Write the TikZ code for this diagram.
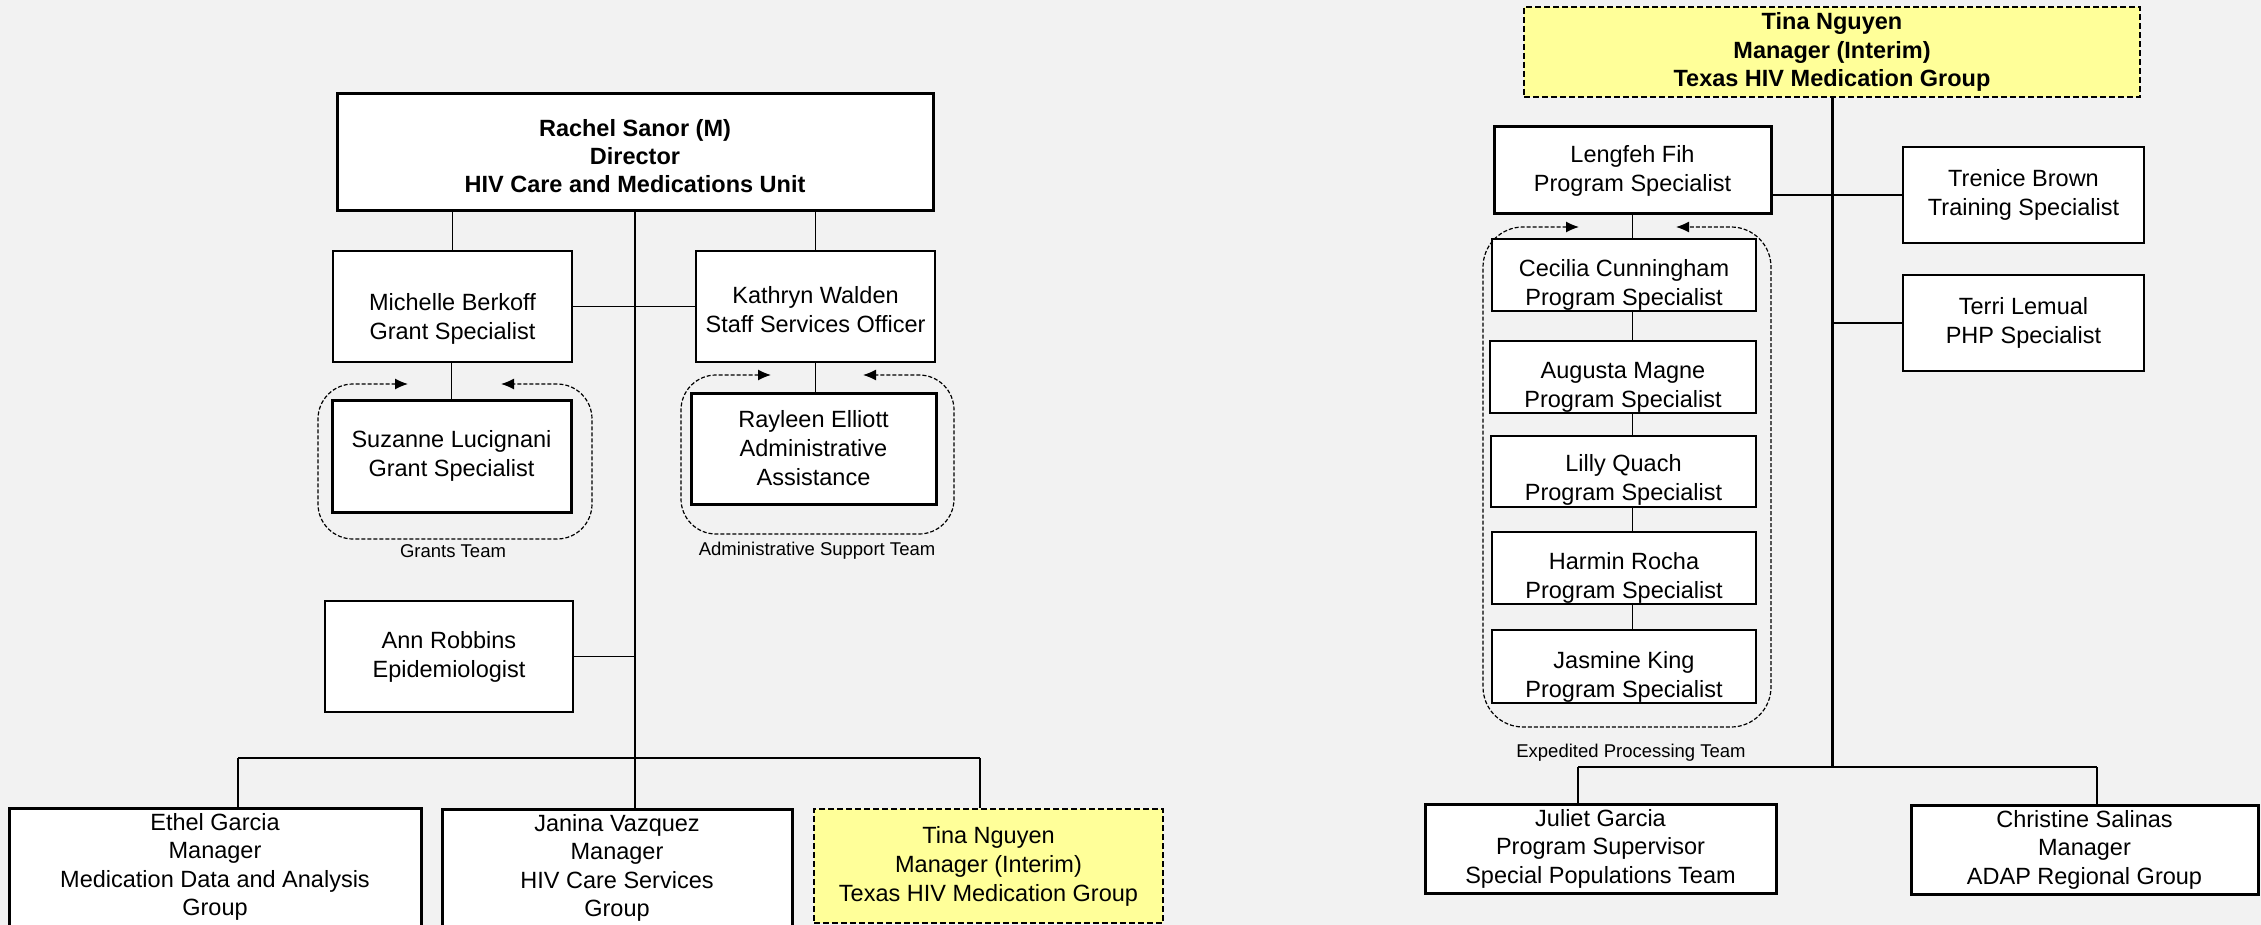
\documentclass[tikz,border=0pt]{standalone}
\usepackage{fontspec}
\setmainfont{Liberation Sans}
\usetikzlibrary{arrows.meta,calc}

\definecolor{pagegray}{HTML}{F2F2F2}
\definecolor{actingyellow}{HTML}{FFFF99}

\tikzset{
	staff/.style={draw=black, line width=1.5pt, fill=white, align=center, inner sep=2pt, font=\fontsize{23.5}{29}\selectfont},
	lead/.style={staff, line width=3pt},
	acting/.style={staff, line width=2.2pt, dash pattern=on 6pt off 3pt, fill=actingyellow},
	textdrop/.style={inner ysep=0pt, execute at begin node={\rule{0pt}{#1}}},
	link/.style={line width=1.5pt},
	teamframe/.style={line width=1.2pt, dash pattern=on 4pt off 2pt, rounded corners=35pt, {Latex[length=13pt,width=11pt]}-{Latex[length=13pt,width=11pt]}},
	teamlabel/.style={font=\fontsize{18.5}{22}\selectfont}
}

\begin{document}
\begin{tikzpicture}[x=1pt, y=-1pt]
	\fill[pagegray] (0,0) rectangle (2261,925);
	\useasboundingbox (0,0) rectangle (2261,925);

	% unit
	\node[lead, minimum width=596pt, minimum height=117pt, textdrop=81pt, font=\fontsize{23.5}{28}\selectfont\bfseries] (rachel) at (635,152.5) {Rachel Sanor (M)\\Director\\HIV Care and Medications Unit};
	\node[staff, minimum width=239pt, minimum height=111pt, textdrop=70pt] (michelle) at (452.5,306.5) {Michelle Berkoff\\Grant Specialist};
	\node[staff, minimum width=239pt, minimum height=111pt, textdrop=52pt] (kathryn) at (815.5,306.5) {Kathryn Walden\\Staff Services Officer};
	\node[lead, minimum width=239pt, minimum height=112pt] (suzanne) at (451.5,456) {Suzanne Lucignani\\Grant Specialist};
	\node[lead, minimum width=245pt, minimum height=111pt] (rayleen) at (813.5,448.5) {Rayleen Elliott\\Administrative\\Assistance};
	\node[staff, minimum width=248pt, minimum height=111pt] (ann) at (449,656.5) {Ann Robbins\\Epidemiologist};
	\node[lead, minimum width=412pt, minimum height=118pt, font=\fontsize{23.5}{28.5}\selectfont] (ethel) at (215,867) {Ethel Garcia\\Manager\\Medication Data and Analysis\\Group};
	\node[lead, minimum width=350pt, minimum height=118pt, font=\fontsize{23.5}{28.5}\selectfont] (janina) at (617,868) {Janina Vazquez\\Manager\\HIV Care Services\\Group};
	\node[acting, minimum width=349pt, minimum height=114pt] (tinaL) at (988.5,866) {Tina Nguyen\\Manager (Interim)\\Texas HIV Medication Group};

	\draw[link] (rachel.south) -- (rachel.south |- janina.north);
	\draw[link] (michelle.north) -- (michelle.north |- rachel.south);
	\draw[link] (kathryn.north) -- (kathryn.north |- rachel.south);
	\draw[link] (michelle.east) -- (kathryn.west);
	\draw[link] (suzanne.north) -- (suzanne.north |- michelle.south);
	\draw[link] (kathryn.south) -- (kathryn.south |- rayleen.north);
	\draw[link] (ann.east) -- (ann.east -| rachel.south);

	\coordinate (lbusL) at (238,758);
	\coordinate (lbusR) at (980,758);
	\draw[link] (lbusL) -- (lbusR);
	\draw[link] (lbusL) -- (lbusL |- ethel.north);
	\draw[link] (lbusR) -- (lbusR |- tinaL.north);

	% teams
	\draw[teamframe] (408,384) -- (318,384) -- (318,539) -- (592,539) -- (592,384) -- (501,384);
	\node[teamlabel] (grants) at (453,551) {Grants Team};
	\draw[teamframe] (771,375) -- (681,375) -- (681,534) -- (954,534) -- (954,375) -- (863,375);
	\node[teamlabel] (admin) at (817,551) {Administrative Support Team};

	% group
	\node[acting, minimum width=616pt, minimum height=90pt, font=\fontsize{23.5}{28.5}\selectfont\bfseries] (tinaR) at (1832,52) {Tina Nguyen\\Manager (Interim)\\Texas HIV Medication Group};
	\node[lead, minimum width=277pt, minimum height=87pt] (lengfeh) at (1632.5,170.5) {Lengfeh Fih\\Program Specialist};
	\node[staff, minimum width=241pt, minimum height=96pt] (trenice) at (2023.5,195) {Trenice Brown\\Training Specialist};
	\node[staff, minimum width=241pt, minimum height=96pt] (terri) at (2023.5,323) {Terri Lemual\\PHP Specialist};
	\node[staff, minimum width=264pt, minimum height=72pt, textdrop=66pt] (cecilia) at (1624,275) {Cecilia Cunningham\\Program Specialist};
	\node[staff, minimum width=266pt, minimum height=72pt, textdrop=66pt] (augusta) at (1623,377) {Augusta Magne\\Program Specialist};
	\node[staff, minimum width=265pt, minimum height=71pt, textdrop=62pt] (lilly) at (1623.5,471.5) {Lilly Quach\\Program Specialist};
	\node[staff, minimum width=264pt, minimum height=72pt, textdrop=66pt] (harmin) at (1624,568) {Harmin Rocha\\Program Specialist};
	\node[staff, minimum width=264pt, minimum height=73pt, textdrop=66pt] (jasmine) at (1624,666.5) {Jasmine King\\Program Specialist};
	\node[lead, minimum width=351pt, minimum height=89pt, font=\fontsize{23.5}{28.5}\selectfont] (juliet) at (1600.5,848.5) {Juliet Garcia\\Program Supervisor\\Special Populations Team};
	\node[lead, minimum width=347pt, minimum height=89pt, font=\fontsize{23.5}{28.5}\selectfont] (christine) at (2084.5,849.5) {Christine Salinas\\Manager\\ADAP Regional Group};

	\coordinate (rbusL) at (1578,767);
	\coordinate (rbusR) at (2097,767);
	\draw[line width=3pt] (tinaR.south) -- (tinaR.south |- rbusL);
	\draw[link] (rbusL) -- (rbusR);
	\draw[link] (rbusL) -- (rbusL |- juliet.north);
	\draw[link] (rbusR) -- (rbusR |- christine.north);
	\draw[link] (trenice.west) -- (trenice.west -| lengfeh.east);
	\draw[link] (terri.west) -- (terri.west -| tinaR.south);
	\draw[link] (lengfeh.south) -- (lengfeh.south |- cecilia.north);
	\foreach \a/\b in {cecilia/augusta, augusta/lilly, lilly/harmin, harmin/jasmine}
		\draw[link] (\a.south -| lengfeh.south) -- (\b.north -| lengfeh.south);

	\draw[teamframe, rounded corners=40pt] (1579,227) -- (1483,227) -- (1483,727) -- (1771,727) -- (1771,227) -- (1676,227);
	\node[teamlabel] (expedited) at (1631,753) {Expedited Processing Team};

\end{tikzpicture}
\end{document}
